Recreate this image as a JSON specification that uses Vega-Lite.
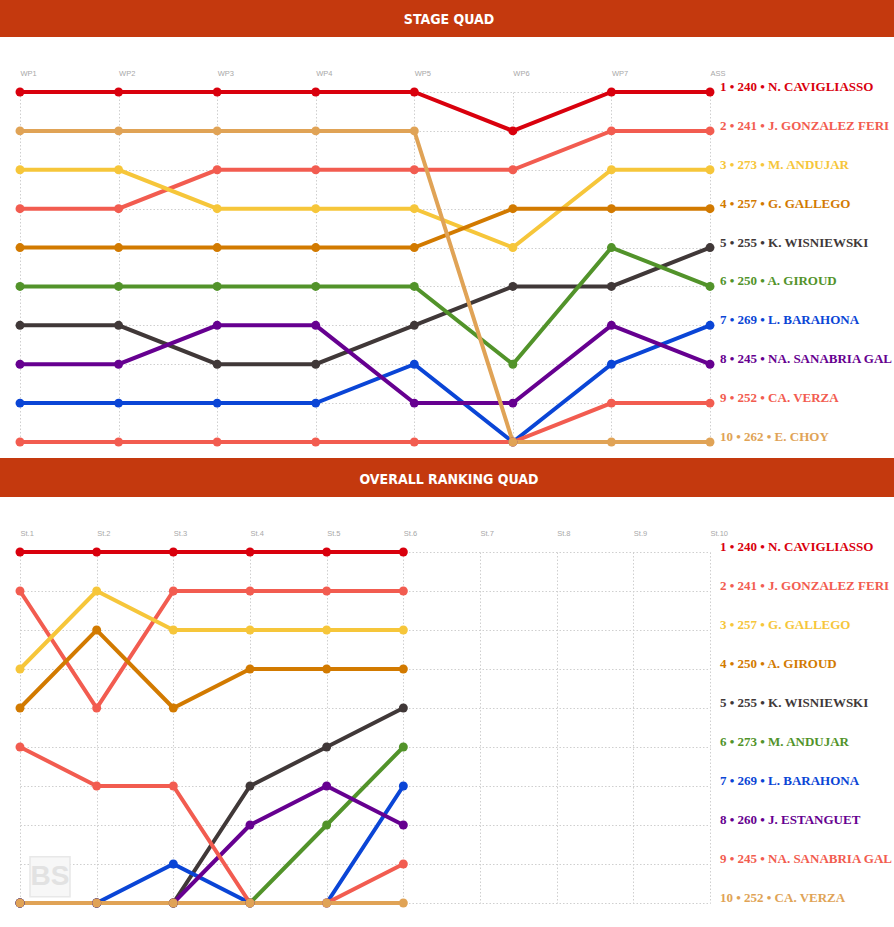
{
  "$schema": "https://vega.github.io/schema/vega-lite/v6.json",
  "padding": 0,
  "spacing": 0,
  "bounds": "full",
  "config": {
    "view": {"stroke": null},
    "axis": {"labelFont": "Liberation Sans", "labelFontSize": 7.5, "labelColor": "#a8a8a8", "gridColor": "#cfcfcf", "gridDash": [1.5, 2], "gridWidth": 1, "ticks": false, "domain": false}
  },
  "datasets": {
    "stage": [
      {"f":1,"i":0,"rank":1},{"f":1,"i":1,"rank":1},{"f":1,"i":2,"rank":1},{"f":1,"i":3,"rank":1},{"f":1,"i":4,"rank":1},{"f":1,"i":5,"rank":2},{"f":1,"i":6,"rank":1},{"f":1,"i":7,"rank":1},
      {"f":2,"i":0,"rank":4},{"f":2,"i":1,"rank":4},{"f":2,"i":2,"rank":3},{"f":2,"i":3,"rank":3},{"f":2,"i":4,"rank":3},{"f":2,"i":5,"rank":3},{"f":2,"i":6,"rank":2},{"f":2,"i":7,"rank":2},
      {"f":3,"i":0,"rank":3},{"f":3,"i":1,"rank":3},{"f":3,"i":2,"rank":4},{"f":3,"i":3,"rank":4},{"f":3,"i":4,"rank":4},{"f":3,"i":5,"rank":5},{"f":3,"i":6,"rank":3},{"f":3,"i":7,"rank":3},
      {"f":4,"i":0,"rank":5},{"f":4,"i":1,"rank":5},{"f":4,"i":2,"rank":5},{"f":4,"i":3,"rank":5},{"f":4,"i":4,"rank":5},{"f":4,"i":5,"rank":4},{"f":4,"i":6,"rank":4},{"f":4,"i":7,"rank":4},
      {"f":5,"i":0,"rank":7},{"f":5,"i":1,"rank":7},{"f":5,"i":2,"rank":8},{"f":5,"i":3,"rank":8},{"f":5,"i":4,"rank":7},{"f":5,"i":5,"rank":6},{"f":5,"i":6,"rank":6},{"f":5,"i":7,"rank":5},
      {"f":6,"i":0,"rank":6},{"f":6,"i":1,"rank":6},{"f":6,"i":2,"rank":6},{"f":6,"i":3,"rank":6},{"f":6,"i":4,"rank":6},{"f":6,"i":5,"rank":8},{"f":6,"i":6,"rank":5},{"f":6,"i":7,"rank":6},
      {"f":7,"i":0,"rank":9},{"f":7,"i":1,"rank":9},{"f":7,"i":2,"rank":9},{"f":7,"i":3,"rank":9},{"f":7,"i":4,"rank":8},{"f":7,"i":5,"rank":10},{"f":7,"i":6,"rank":8},{"f":7,"i":7,"rank":7},
      {"f":8,"i":0,"rank":8},{"f":8,"i":1,"rank":8},{"f":8,"i":2,"rank":7},{"f":8,"i":3,"rank":7},{"f":8,"i":4,"rank":9},{"f":8,"i":5,"rank":9},{"f":8,"i":6,"rank":7},{"f":8,"i":7,"rank":8},
      {"f":9,"i":0,"rank":10},{"f":9,"i":1,"rank":10},{"f":9,"i":2,"rank":10},{"f":9,"i":3,"rank":10},{"f":9,"i":4,"rank":10},{"f":9,"i":5,"rank":10},{"f":9,"i":6,"rank":9},{"f":9,"i":7,"rank":9},
      {"f":10,"i":0,"rank":2},{"f":10,"i":1,"rank":2},{"f":10,"i":2,"rank":2},{"f":10,"i":3,"rank":2},{"f":10,"i":4,"rank":2},{"f":10,"i":5,"rank":10},{"f":10,"i":6,"rank":10},{"f":10,"i":7,"rank":10}
    ],
    "stageLabels": [
      {"f":1,"i":7,"rank":1,"label":"1 • 240 • N. CAVIGLIASSO"},
      {"f":2,"i":7,"rank":2,"label":"2 • 241 • J. GONZALEZ FERIA"},
      {"f":3,"i":7,"rank":3,"label":"3 • 273 • M. ANDUJAR"},
      {"f":4,"i":7,"rank":4,"label":"4 • 257 • G. GALLEGO"},
      {"f":5,"i":7,"rank":5,"label":"5 • 255 • K. WISNIEWSKI"},
      {"f":6,"i":7,"rank":6,"label":"6 • 250 • A. GIROUD"},
      {"f":7,"i":7,"rank":7,"label":"7 • 269 • L. BARAHONA"},
      {"f":8,"i":7,"rank":8,"label":"8 • 245 • NA. SANABRIA GALINDO"},
      {"f":9,"i":7,"rank":9,"label":"9 • 252 • CA. VERZA"},
      {"f":10,"i":7,"rank":10,"label":"10 • 262 • E. CHOY"}
    ],
    "overall": [
      {"f":1,"i":0,"rank":1},{"f":1,"i":1,"rank":1},{"f":1,"i":2,"rank":1},{"f":1,"i":3,"rank":1},{"f":1,"i":4,"rank":1},{"f":1,"i":5,"rank":1},
      {"f":2,"i":0,"rank":2},{"f":2,"i":1,"rank":5},{"f":2,"i":2,"rank":2},{"f":2,"i":3,"rank":2},{"f":2,"i":4,"rank":2},{"f":2,"i":5,"rank":2},
      {"f":3,"i":0,"rank":4},{"f":3,"i":1,"rank":2},{"f":3,"i":2,"rank":3},{"f":3,"i":3,"rank":3},{"f":3,"i":4,"rank":3},{"f":3,"i":5,"rank":3},
      {"f":4,"i":0,"rank":5},{"f":4,"i":1,"rank":3},{"f":4,"i":2,"rank":5},{"f":4,"i":3,"rank":4},{"f":4,"i":4,"rank":4},{"f":4,"i":5,"rank":4},
      {"f":5,"i":0,"rank":10},{"f":5,"i":1,"rank":10},{"f":5,"i":2,"rank":10},{"f":5,"i":3,"rank":7},{"f":5,"i":4,"rank":6},{"f":5,"i":5,"rank":5},
      {"f":6,"i":0,"rank":10},{"f":6,"i":1,"rank":10},{"f":6,"i":2,"rank":10},{"f":6,"i":3,"rank":10},{"f":6,"i":4,"rank":8},{"f":6,"i":5,"rank":6},
      {"f":7,"i":0,"rank":10},{"f":7,"i":1,"rank":10},{"f":7,"i":2,"rank":9},{"f":7,"i":3,"rank":10},{"f":7,"i":4,"rank":10},{"f":7,"i":5,"rank":7},
      {"f":8,"i":0,"rank":10},{"f":8,"i":1,"rank":10},{"f":8,"i":2,"rank":10},{"f":8,"i":3,"rank":8},{"f":8,"i":4,"rank":7},{"f":8,"i":5,"rank":8},
      {"f":9,"i":0,"rank":6},{"f":9,"i":1,"rank":7},{"f":9,"i":2,"rank":7},{"f":9,"i":3,"rank":10},{"f":9,"i":4,"rank":10},{"f":9,"i":5,"rank":9},
      {"f":10,"i":0,"rank":10},{"f":10,"i":1,"rank":10},{"f":10,"i":2,"rank":10},{"f":10,"i":3,"rank":10},{"f":10,"i":4,"rank":10},{"f":10,"i":5,"rank":10}
    ],
    "overallLabels": [
      {"f":1,"i":9,"rank":1,"label":"1 • 240 • N. CAVIGLIASSO"},
      {"f":2,"i":9,"rank":2,"label":"2 • 241 • J. GONZALEZ FERIA"},
      {"f":3,"i":9,"rank":3,"label":"3 • 257 • G. GALLEGO"},
      {"f":4,"i":9,"rank":4,"label":"4 • 250 • A. GIROUD"},
      {"f":5,"i":9,"rank":5,"label":"5 • 255 • K. WISNIEWSKI"},
      {"f":6,"i":9,"rank":6,"label":"6 • 273 • M. ANDUJAR"},
      {"f":7,"i":9,"rank":7,"label":"7 • 269 • L. BARAHONA"},
      {"f":8,"i":9,"rank":8,"label":"8 • 260 • J. ESTANGUET"},
      {"f":9,"i":9,"rank":9,"label":"9 • 245 • NA. SANABRIA GALINDO"},
      {"f":10,"i":9,"rank":10,"label":"10 • 252 • CA. VERZA"}
    ],
    "logo": [{"i":0,"rank":9.33,"t":"BS"}]
  },
  "vconcat": [
    {
      "width": 894, "height": 37,
      "view": {"fill": "#C4390E", "stroke": null},
      "data": {"values": [{"t": "STAGE QUAD"}]},
      "mark": {"type": "text", "font": "DejaVu Sans Condensed, Liberation Sans", "fontWeight": "bold", "fontSize": 14, "color": "#ffffff", "dy": 1, "dx": 2},
      "encoding": {"text": {"field": "t"}}
    },
    {
      "width": 894, "height": 350,
      "encoding": {
        "y": {"field": "rank", "type": "quantitative", "scale": {"domain": [1, 10], "reverse": true, "nice": false, "zero": false},
              "axis": {"orient": "left", "values": [1,2,3,4,5,6,7,8,9,10], "grid": true, "labels": false, "minExtent": 0, "maxExtent": 0, "title": null}},
        "color": {"field": "f", "type": "nominal", "legend": null,
                  "scale": {"domain": [1,2,3,4,5,6,7,8,9,10], "range": ["#D9000D","#F25C50","#F6C63A","#D27A00","#403838","#52932A","#0A45D6","#660090","#F25C50","#E0A356"]}}
      },
      "layer": [
        {
          "data": {"name": "stage"},
          "mark": {"type": "line", "strokeWidth": 4},
          "encoding": {
            "x": {"field": "i", "type": "quantitative", "scale": {"domain": [0, 7], "range": [20, 710], "nice": false, "zero": false},
                  "axis": {"orient": "top", "values": [0,1,2,3,4,5,6,7], "grid": true, "labelAlign": "left", "labelBaseline": "middle", "labelPadding": 19, "minExtent": 55, "maxExtent": 55, "title": null,
                           "labelExpr": "['WP1','WP2','WP3','WP4','WP5','WP6','WP7','ASS'][datum.value]"}}
          }
        },
        {
          "data": {"name": "stage"},
          "mark": {"type": "circle", "size": 80, "opacity": 1},
          "encoding": {
            "x": {"field": "i", "type": "quantitative",
                  "axis": {"orient": "bottom", "grid": false, "labelExpr": "''", "minExtent": 16, "maxExtent": 16, "title": null}}
          }
        },
        {
          "data": {"name": "stageLabels"},
          "mark": {"type": "text", "align": "left", "baseline": "alphabetic", "dx": 10, "dy": -1, "font": "Liberation Serif", "fontWeight": "bold", "fontSize": 13, "limit": 174, "ellipsis": "\u200b"},
          "encoding": {
            "x": {"field": "i", "type": "quantitative", "axis": null},
            "text": {"field": "label"}
          }
        }
      ],
      "resolve": {"axis": {"x": "independent"}}
    },
    {
      "width": 894, "height": 39,
      "view": {"fill": "#C4390E", "stroke": null},
      "data": {"values": [{"t": "OVERALL RANKING QUAD"}]},
      "mark": {"type": "text", "font": "DejaVu Sans Condensed, Liberation Sans", "fontWeight": "bold", "fontSize": 14, "color": "#ffffff", "dy": 2, "dx": 2},
      "encoding": {"text": {"field": "t"}}
    },
    {
      "width": 894, "height": 351,
      "encoding": {
        "y": {"field": "rank", "type": "quantitative", "scale": {"domain": [1, 10], "reverse": true, "nice": false, "zero": false},
              "axis": {"orient": "left", "values": [1,2,3,4,5,6,7,8,9,10], "grid": true, "labels": false, "minExtent": 0, "maxExtent": 0, "title": null}}
      },
      "layer": [
        {
          "data": {"name": "logo"},
          "mark": {"type": "point", "shape": "square", "size": 1600, "filled": false, "fill": "#f7f7f7", "stroke": "#e8e8e8", "strokeWidth": 1.5, "opacity": 1, "xOffset": 30},
          "encoding": {
            "x": {"field": "i", "type": "quantitative", "axis": null}
          }
        },
        {
          "data": {"name": "logo"},
          "mark": {"type": "text", "font": "Liberation Sans", "fontWeight": "bold", "fontSize": 28, "color": "#e2e2e2", "dx": 30, "baseline": "middle"},
          "encoding": {
            "x": {"field": "i", "type": "quantitative", "axis": null},
            "text": {"field": "t"}
          }
        },
        {
          "data": {"name": "overall"},
          "mark": {"type": "line", "strokeWidth": 4},
          "encoding": {
            "x": {"field": "i", "type": "quantitative", "scale": {"domain": [0, 9], "range": [20, 710], "nice": false, "zero": false},
                  "axis": {"orient": "top", "values": [0,1,2,3,4,5,6,7,8,9], "grid": true, "labelAlign": "left", "labelBaseline": "middle", "labelPadding": 19, "minExtent": 55, "maxExtent": 55, "title": null,
                           "labelExpr": "['St.1','St.2','St.3','St.4','St.5','St.6','St.7','St.8','St.9','St.10'][datum.value]"}},
            "color": {"field": "f", "type": "nominal", "legend": null,
                      "scale": {"domain": [1,2,3,4,5,6,7,8,9,10], "range": ["#D9000D","#F25C50","#F6C63A","#D27A00","#403838","#52932A","#0A45D6","#660090","#F25C50","#E0A356"]}}
          }
        },
        {
          "data": {"name": "overall"},
          "mark": {"type": "circle", "size": 80, "opacity": 1},
          "encoding": {
            "x": {"field": "i", "type": "quantitative", "axis": null},
            "color": {"field": "f", "type": "nominal", "legend": null}
          }
        },
        {
          "data": {"name": "overallLabels"},
          "mark": {"type": "text", "align": "left", "baseline": "alphabetic", "dx": 10, "dy": -1, "font": "Liberation Serif", "fontWeight": "bold", "fontSize": 13, "limit": 174, "ellipsis": "\u200b"},
          "encoding": {
            "x": {"field": "i", "type": "quantitative", "axis": null},
            "text": {"field": "label"},
            "color": {"field": "f", "type": "nominal", "legend": null}
          }
        }
      ],
      "resolve": {"axis": {"x": "independent"}}
    }
  ]
}
